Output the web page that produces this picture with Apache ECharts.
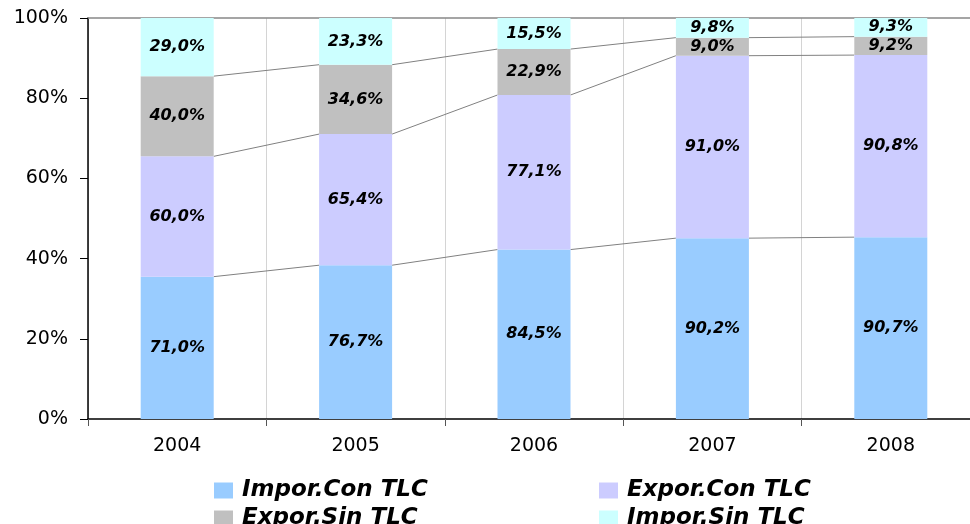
<!DOCTYPE html>
<html>
<head>
<meta charset="utf-8">
<script src="https://cdn.jsdelivr.net/npm/echarts@6/dist/echarts.min.js"></script>
<style>
  html,body{margin:0;padding:0;background:#fff;}
  #chart{width:970px;height:524px;}
</style>
</head>
<body>
<div id="chart"></div>
<script>
var years = ['2004', '2005', '2006', '2007', '2008'];
// shares of imports and of exports (each pair sums to 100, bar total is 200)
var imporCon = [71.0, 76.7, 84.5, 90.2, 90.7];
var exporCon = [60.0, 65.4, 77.1, 91.0, 90.8];
var exporSin = [40.0, 34.6, 22.9, 9.0, 9.2];
var imporSin = [29.0, 23.3, 15.5, 9.8, 9.3];
var yTicks = [0, 40, 80, 120, 160, 200]; // shown as 0%..100%

var names = ['Impor.Con TLC', 'Expor.Con TLC', 'Expor.Sin TLC', 'Impor.Sin TLC'];
var colors = ['#99CCFF', '#CCCCFF', '#C0C0C0', '#CCFFFF'];
var stackData = [imporCon, exporCon, exporSin, imporSin];
var barW = 73;

function fmt(v){
  return v.toFixed(1).replace('.', ',') + '%';
}

function cum(level, i){
  var s = 0;
  for (var k = 0; k <= level; k++) s += stackData[k][i];
  return s;
}

var chart = echarts.init(document.getElementById('chart'));

var series = [];
for (var s = 0; s < 4; s++) {
  series.push({
    name: names[s],
    type: 'bar',
    stack: 'total',
    barWidth: barW,
    itemStyle: {color: colors[s]},
    label: {
      show: true,
      position: 'inside',
      color: '#000',
      fontFamily: 'DejaVu Sans',
      fontWeight: 'bold',
      fontStyle: 'italic',
      fontSize: 16,
      formatter: function(p){ return fmt(p.value); }
    },
    data: stackData[s]
  });
}

// series lines joining segment tops of neighbouring bars
series.push({
  type: 'custom',
  silent: true,
  data: [[0, 0], [1, 0], [2, 0], [3, 0]],
  encode: {x: 0, y: 1},
  renderItem: function(params, api){
    var i = params.dataIndex;
    var kids = [];
    for (var k = 0; k < 3; k++) {
      var a = api.coord([i, cum(k, i)]);
      var b = api.coord([i + 1, cum(k, i + 1)]);
      kids.push({
        type: 'line',
        shape: {x1: a[0] + barW / 2, y1: a[1], x2: b[0] - barW / 2, y2: b[1]},
        style: {stroke: '#808080', lineWidth: 1}
      });
    }
    return {type: 'group', children: kids};
  },
  z: 1
});

var legendFont = {
  fontFamily: 'DejaVu Sans',
  fontWeight: 'bold',
  fontStyle: 'italic',
  fontSize: 23,
  color: '#000',
  padding: [0, 0, 0, 4]
};
function leg(name, left, top){
  return {
    data: [name], left: left, top: top,
    itemWidth: 19, itemHeight: 16,
    icon: 'rect',
    selectedMode: false,
    textStyle: legendFont
  };
}

chart.setOption({
  animation: false,
  grid: {left: 88, top: 18, width: 892, height: 401, outerBoundsMode: 'none'},
  legend: [
    leg('Impor.Con TLC', 209, 474),
    leg('Expor.Con TLC', 594, 474),
    leg('Expor.Sin TLC', 209, 502),
    leg('Impor.Sin TLC', 594, 502)
  ],
  xAxis: [{
    type: 'category',
    data: years,
    axisLine: {lineStyle: {color: '#000', width: 1.5}},
    axisTick: {show: true, length: 7, lineStyle: {color: '#555'}},
    axisLabel: {color: '#000', fontFamily: 'DejaVu Sans', fontSize: 19, margin: 18},
    splitLine: {show: true, lineStyle: {color: '#D4D4D4', width: 1}}
  }, {
    type: 'category',
    data: years,
    position: 'top',
    axisLine: {lineStyle: {color: '#888', width: 1.5}},
    axisTick: {show: false},
    axisLabel: {show: false}
  }],
  yAxis: {
    type: 'value',
    min: yTicks[0],
    max: yTicks[yTicks.length - 1],
    interval: 40,
    axisLine: {show: true, lineStyle: {color: '#000', width: 1.5}},
    axisTick: {show: true, length: 8, lineStyle: {color: '#000'}},
    axisLabel: {
      color: '#000', fontFamily: 'DejaVu Sans', fontSize: 19, margin: 20,
      formatter: function(v){ return (v / 2) + '%'; }
    },
    splitLine: {show: false}
  },
  series: series
});
</script>
</body>
</html>
